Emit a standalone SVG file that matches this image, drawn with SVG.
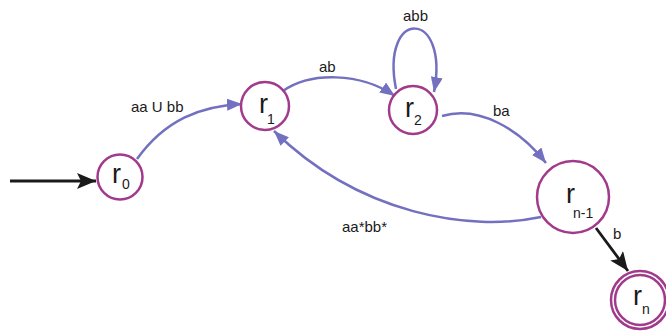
<svg xmlns="http://www.w3.org/2000/svg" width="666" height="333" viewBox="0 0 666 333">
<style>
.st{fill:#fff;stroke:#a23a8c;stroke-width:2.5}
.e{fill:none;stroke:#7370c0;stroke-width:2.5}
.k{fill:none;stroke:#1a1a1a;stroke-width:2.8}
.r{font-family:"Liberation Sans",Arial,sans-serif;font-size:27px;fill:#1a1a1a}
.s{font-family:"Liberation Sans",Arial,sans-serif;font-size:14px;fill:#1a1a1a}
.l{font-family:"Liberation Sans",Arial,sans-serif;font-size:15px;fill:#1a1a1a}
</style>
<defs>
<marker id="ap" markerUnits="userSpaceOnUse" markerWidth="16" markerHeight="12" refX="15" refY="6" orient="auto">
<path d="M0,0 L15,6 L0,12 z" fill="#7370c0"/>
</marker>
<marker id="ak" markerUnits="userSpaceOnUse" markerWidth="20" markerHeight="16" refX="19" refY="8" orient="auto">
<path d="M0,0 L19,8 L0,16 L4,8 z" fill="#1a1a1a"/>
</marker>
</defs>
<g id="connectors">
<path class="k" d="M10 181 L96 181" marker-end="url(#ak)"/>
<path class="e" d="M137 159 C165 120 200 106 242 104" marker-end="url(#ap)"/>
<path class="e" d="M283 91 C310 72 360 72 395 96" marker-end="url(#ap)"/>
<path class="e" d="M396 89 C380 8 450 8 434 92" marker-end="url(#ap)"/>
<path class="e" d="M442 116 C480 105 520 130 546 163" marker-end="url(#ap)"/>
<path class="e" d="M541 217 C470 232 360 215 274 131" marker-end="url(#ap)"/>
<path class="k" d="M596 228 L628 271" marker-end="url(#ak)"/>
<text class="l" x="131" y="112">aa U bb</text>
<text class="l" x="319" y="72">ab</text>
<text class="l" x="403" y="21">abb</text>
<text class="l" x="493" y="116">ba</text>
<text class="l" x="342" y="232">aa*bb*</text>
<text class="l" x="613" y="239">b</text>
</g>
<g id="r0">
<circle class="st" cx="120" cy="177" r="22.5"/>
<text class="r" x="112" y="183">r</text><text class="s" x="122" y="189">0</text>
</g>
<g id="r1">
<circle class="st" cx="265" cy="106" r="24"/>
<text class="r" x="259" y="113">r</text><text class="s" x="267" y="124">1</text>
</g>
<g id="r2">
<circle class="st" cx="413" cy="110" r="24"/>
<text class="r" x="405" y="117">r</text><text class="s" x="414" y="125">2</text>
</g>
<g id="rn-1">
<circle class="st" cx="573" cy="197" r="36"/>
<text class="r" x="566" y="203">r</text><text class="s" x="573" y="218">n-1</text>
</g>
<g id="rn">
<circle class="st" cx="640" cy="300" r="29"/>
<circle class="st" cx="640" cy="300" r="25" fill="none"/>
<text class="r" x="633" y="305">r</text><text class="s" x="642" y="314">n</text>
</g>
</svg>
